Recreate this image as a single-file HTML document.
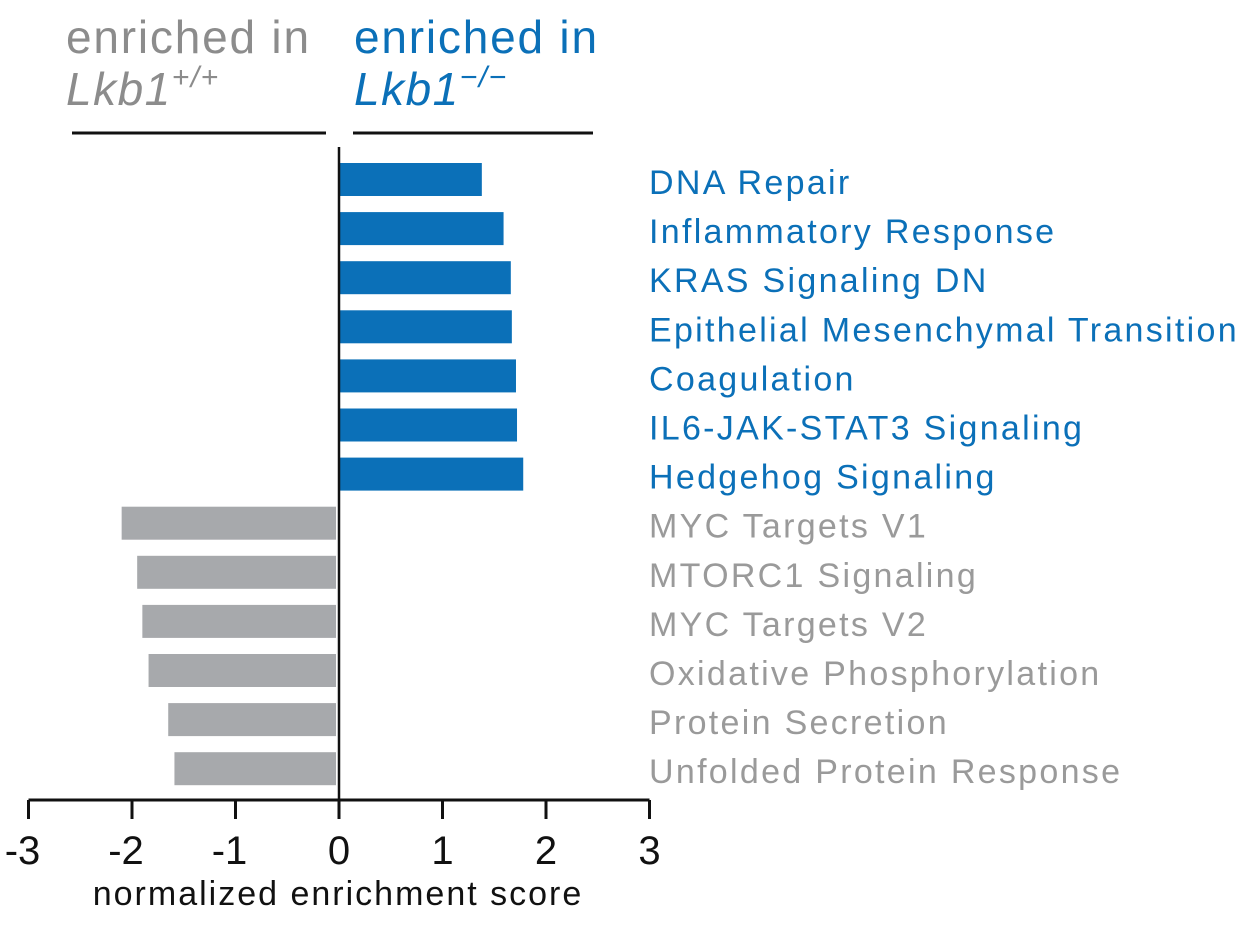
<!DOCTYPE html>
<html><head><meta charset="utf-8"><style>
body{margin:0;background:#fff;width:1260px;height:931px;overflow:hidden;font-family:"Liberation Sans",Arial,sans-serif}
</style></head><body>
<svg width="1260" height="931" font-family="Liberation Sans, Arial, sans-serif">
<g fill="#8c8c8c">
<text x="66" y="53" font-size="46" letter-spacing="1.8">enriched in</text>
<text x="66" y="105" font-size="46" letter-spacing="1.5" font-style="italic">Lkb1<tspan dy="-18" font-size="30">+/+</tspan></text>
</g>
<g fill="#0b70b8">
<text x="354" y="53" font-size="46" letter-spacing="1.8">enriched in</text>
<text x="354" y="105" font-size="46" letter-spacing="1.5" font-style="italic">Lkb1<tspan dy="-18" font-size="30">−/−</tspan></text>
</g>
<line x1="72" y1="133" x2="326" y2="133" stroke="#111" stroke-width="3"/>
<line x1="353" y1="133" x2="593" y2="133" stroke="#111" stroke-width="3"/>
<g id="bars"></g>
<g id="axis"></g>
<text x="338" y="905" font-size="34" letter-spacing="2" text-anchor="middle" fill="#111">normalized enrichment score</text>
</svg>
<script>
const categories=["DNA Repair","Inflammatory Response","KRAS Signaling DN","Epithelial Mesenchymal Transition","Coagulation","IL6-JAK-STAT3 Signaling","Hedgehog Signaling","MYC Targets V1","MTORC1 Signaling","MYC Targets V2","Oxidative Phosphorylation","Protein Secretion","Unfolded Protein Response"];
const values=[1.38,1.59,1.66,1.67,1.71,1.72,1.78,-2.1,-1.95,-1.9,-1.84,-1.65,-1.59];
const ticks=[-3,-2,-1,0,1,2,3];
const NS="http://www.w3.org/2000/svg";
const x=v=>339+v*103.5;
const rowY=i=>163+i*49.1;
const bars=document.getElementById('bars');
const axis=document.getElementById('axis');
function mk(t,a){const e=document.createElementNS(NS,t);for(const k in a)e.setAttribute(k,a[k]);return e;}
categories.forEach((c,i)=>{
  const v=values[i];const pos=v>=0;
  const x0=pos?x(0):x(v), x1=pos?x(v):x(0)-3;
  const r=mk('rect',{x:x0,y:rowY(i),width:Math.max(0,x1-x0),height:33,fill:pos?'#0b70b8':'#a7a9ac'});
  
  
  bars.appendChild(r);
  const t=mk('text',{x:649,y:rowY(i)+31,'font-size':34,'letter-spacing':2.3,fill:pos?'#0b70b8':'#9a9a9a'});
  t.textContent=c;
  
  
  bars.appendChild(t);
});
const za=mk('line',{x1:x(0),y1:147,x2:x(0),y2:800,stroke:'#111','stroke-width':2.5});


axis.appendChild(za);
const xa=mk('line',{x1:x(-3),y1:800,x2:x(3),y2:800,stroke:'#111','stroke-width':3});


axis.appendChild(xa);
ticks.forEach(v=>{
  const l=mk('line',{x1:x(v),y1:800,x2:x(v),y2:819,stroke:'#111','stroke-width':3});
  
  
  axis.appendChild(l);
  const t=mk('text',{x:x(v)-(v<0?6:0),y:864,'font-size':40,'text-anchor':'middle',fill:'#111'});
  t.textContent=v;
  
  
  axis.appendChild(t);
});
</script>
</body></html>
